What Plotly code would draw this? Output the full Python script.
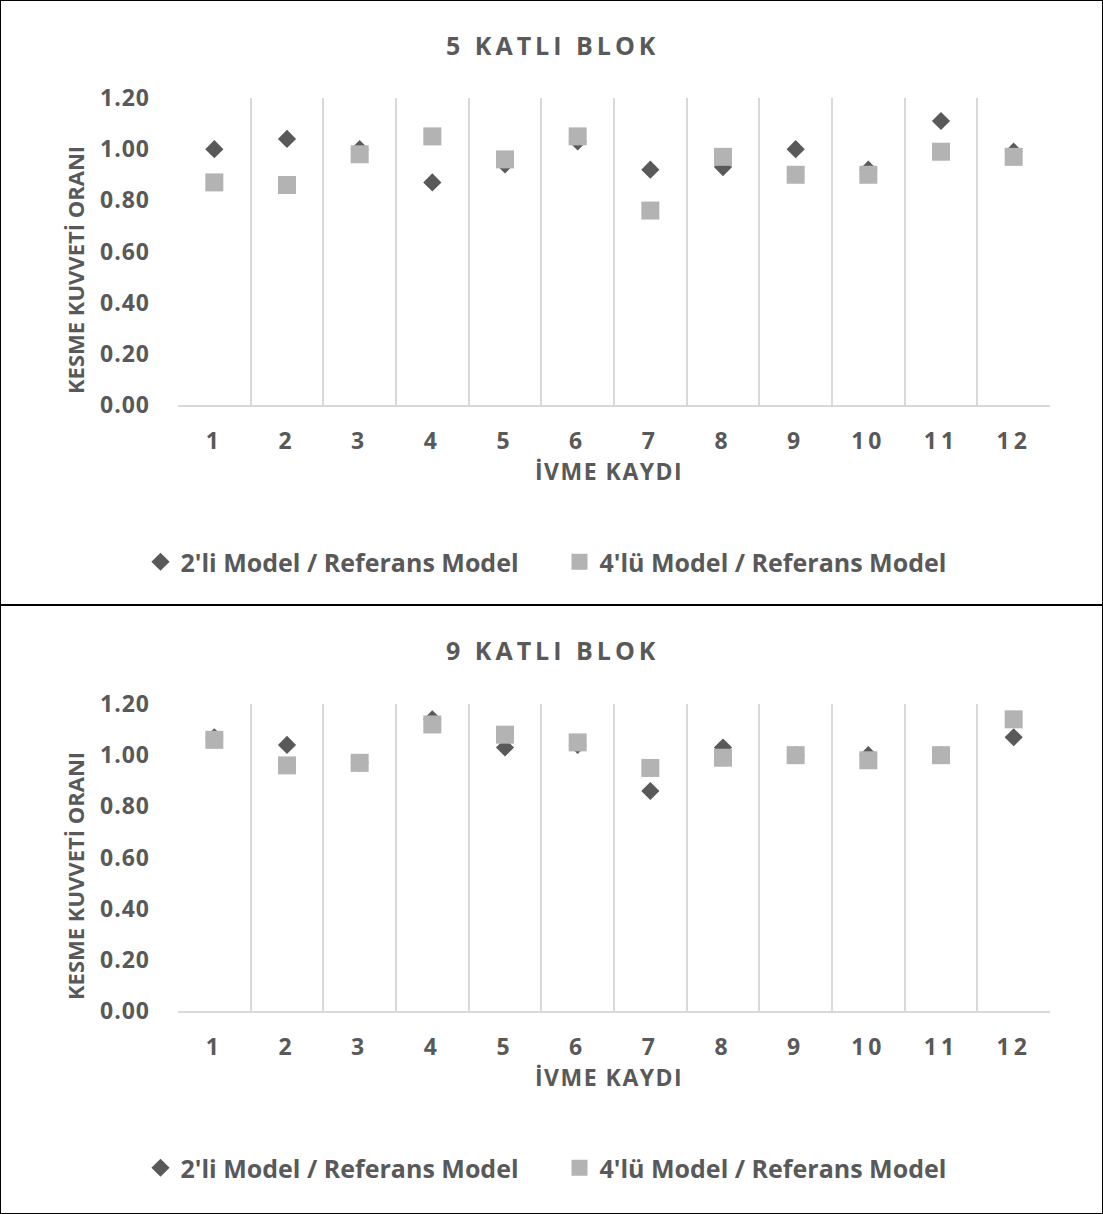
import plotly.graph_objects as go

# Acceleration record numbers (x categories)
records = list(range(1, 13))
record_labels = [str(r) for r in records]

# 5-storey block: shear force ratios
ratio_2li_5kat = [1.00, 1.04, 1.00, 0.87, 0.94, 1.03, 0.92, 0.93, 1.00, 0.92, 1.11, 0.99]
ratio_4lu_5kat = [0.87, 0.86, 0.98, 1.05, 0.96, 1.05, 0.76, 0.97, 0.90, 0.90, 0.99, 0.97]

# 9-storey block: shear force ratios
ratio_2li_9kat = [1.07, 1.04, 0.97, 1.14, 1.03, 1.04, 0.86, 1.03, 1.00, 1.00, 1.00, 1.07]
ratio_4lu_9kat = [1.06, 0.96, 0.97, 1.12, 1.08, 1.05, 0.95, 0.99, 1.00, 0.98, 1.00, 1.14]

y_ticks = [0.0, 0.2, 0.4, 0.6, 0.8, 1.0, 1.2]
y_tick_labels = ["0.00", "0.20", "0.40", "0.60", "0.80", "1.00", "1.20"]

name_2li = "2'li Model / Referans Model"
name_4lu = "4'lü Model / Referans Model"
panel_titles = ["5 KATLI BLOK", "9 KATLI BLOK"]
x_title = "İVME KAYDI"
y_title = "KESME KUVVETİ ORANI"

W, H = 1103, 1214
TXT = "#595959"
GRID = "#D9D9D9"
C_DIAMOND = "#595959"
C_SQUARE = "#B3B3B3"
FONT = "Open Sans"


def py(px):
    """Convert a pixel row to paper y."""
    return 1 - px / H


def spaced(text, px):
    return '<span style="letter-spacing:%gpx">%s</span>' % (px, text)


def label(text, x_px, y_px, size, angle=0):
    fig.add_annotation(
        xref="paper", yref="paper", x=x_px / W, y=py(y_px),
        xanchor="center", yanchor="middle", textangle=angle,
        text=text, showarrow=False,
        font=dict(family=FONT, size=size, color=TXT, weight="bold"),
    )


fig = go.Figure()

# (series 2'li, series 4'lü, x axis, y axis, legend, plot top px, plot bottom px, title row px, legend row px)
panels = [
    (ratio_2li_5kat, ratio_4lu_5kat, "x", "y", "legend", 98, 405, 45, 562),
    (ratio_2li_9kat, ratio_4lu_9kat, "x2", "y2", "legend2", 704, 1011, 650, 1168),
]

for i, (s2, s4, xa, ya, lg, top, bot, ttl, leg_y) in enumerate(panels):
    fig.add_trace(go.Scatter(
        x=records, y=s2, mode="markers", name=name_2li, xaxis=xa, yaxis=ya, legend=lg,
        marker=dict(symbol="diamond", size=14, color=C_DIAMOND, line=dict(width=0)),
    ))
    fig.add_trace(go.Scatter(
        x=records, y=s4, mode="markers", name=name_4lu, xaxis=xa, yaxis=ya, legend=lg,
        marker=dict(symbol="square", size=18, color=C_SQUARE, line=dict(width=0)),
    ))

    sfx = "" if i == 0 else "2"
    fig.layout["xaxis" + sfx] = dict(
        domain=[178 / W, 1050 / W], anchor=ya, range=[0.5, 12.5], automargin=False,
        tickmode="array", tickvals=records,
        ticktext=[spaced(t, 4) for t in record_labels],
        showgrid=False, zeroline=False,
        showline=True, linecolor=GRID, linewidth=1.5,
        ticks="", ticklabelstandoff=15,
        tickfont=dict(family=FONT, size=23, color=TXT, weight="bold"),
        minor=dict(tickmode="linear", tick0=0.5, dtick=1, showgrid=True,
                   gridcolor=GRID, gridwidth=1.5, ticks=""),
        fixedrange=True,
    )
    fig.layout["yaxis" + sfx] = dict(
        domain=[py(bot), py(top)], anchor=xa, range=[0, 1.2], automargin=False,
        tickmode="array", tickvals=y_ticks,
        ticktext=[spaced(t, 1) for t in y_tick_labels],
        showgrid=False, zeroline=False, showline=False, ticks="",
        ticklabelstandoff=27,
        tickfont=dict(family=FONT, size=23, color=TXT, weight="bold"),
        fixedrange=True,
    )
    fig.layout["legend" + sfx] = dict(
        orientation="h", x=0.5 + 8 / W, xanchor="center", y=py(leg_y), yanchor="middle",
        font=dict(family=FONT, size=25, color=TXT, weight="bold"),
        bgcolor="rgba(0,0,0,0)", itemwidth=30, entrywidth=374,
        itemclick=False, itemdoubleclick=False,
    )
    # panel title and axis titles
    label(spaced(panel_titles[i], 4), 552, ttl, 25)
    label(spaced(x_title, 1.5), 609, bot + 66, 23)
    label(y_title, 75, bot - 135, 22, angle=-90)

# panel frames
fig.add_shape(type="rect", xref="paper", yref="paper", x0=0, x1=1, y0=0, y1=1,
              line=dict(color="black", width=2))
fig.add_shape(type="line", xref="paper", yref="paper", x0=0, x1=1, y0=py(605), y1=py(605),
              line=dict(color="black", width=2))

fig.update_layout(
    width=W, height=H, margin=dict(l=0, r=0, t=0, b=0, autoexpand=False),
    paper_bgcolor="white", plot_bgcolor="white", showlegend=True,
)

fig.write_html("out.html", config={"displayModeBar": False})
